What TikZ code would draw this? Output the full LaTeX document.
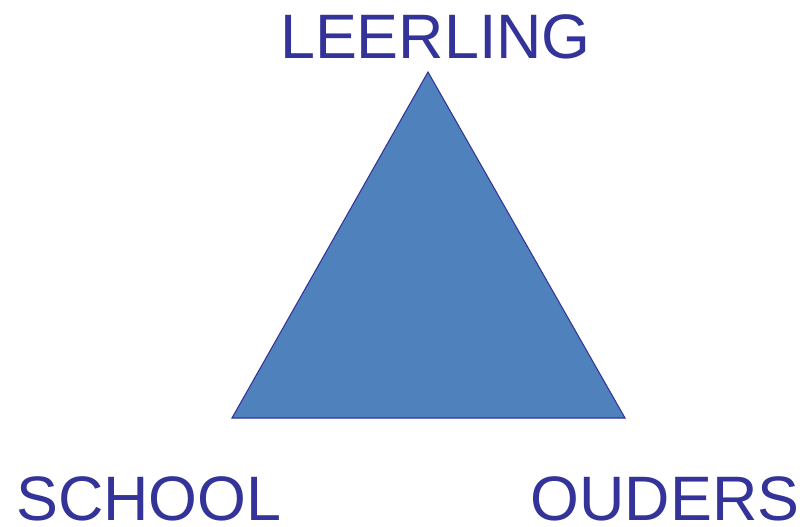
\documentclass[tikz,border=0pt]{standalone}
\usepackage{fontspec}
\setmainfont{Liberation Sans}
\usetikzlibrary{positioning}
\definecolor{rolblue}{HTML}{333399}
\definecolor{trifill}{HTML}{4F81BD}
\tikzset{
  roletext/.style={text=rolblue, anchor=base, inner sep=0pt, font=\fontsize{53.6}{60}\selectfont},
  triangle/.style={draw=rolblue, fill=trifill, line width=0.9pt, line join=miter},
}

\begin{document}
\begin{tikzpicture}[x=0.03cm, y=-0.03cm]
    \useasboundingbox (0,0) rectangle (806,526);
    \coordinate (top) at (428,72);
    \coordinate (left) at (232,418);
    \coordinate (right) at (625,418);
    \draw[triangle] (top) -- (left) -- (right) -- cycle;
    \node[roletext] (leerling) at (435.5,58) {LEERLING};
    \node[roletext] (school) at (149,520) {SCHOOL};
    \node[roletext] (ouders) at (665,520) {OUDERS};
\end{tikzpicture}
\end{document}
